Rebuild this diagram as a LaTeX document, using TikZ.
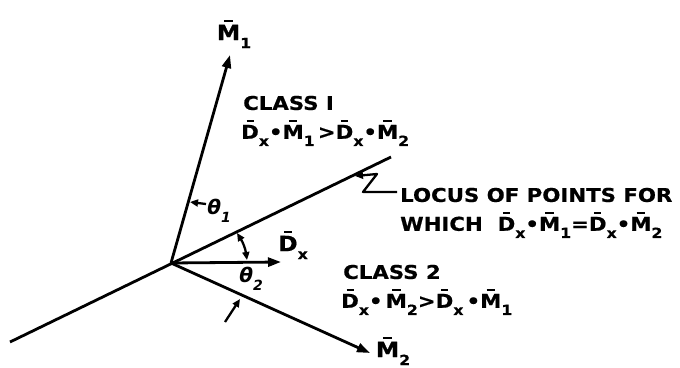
\documentclass[tikz,border=0pt]{standalone}
\usepackage{fontspec}
\setmainfont{DejaVu Sans}[BoldFont={DejaVu Sans Bold},BoldFeatures={FakeStretch=1.12,FakeBold=0.6}]
\usetikzlibrary{arrows.meta}
\newcommand{\ob}[1]{\setbox0\hbox{#1}\rlap{\hbox to\wd0{\hss\rule[\dimexpr\ht0+2.5pt]{0.4\wd0}{2.4pt}\hss}}\box0}
\newcommand{\sub}[1]{\raisebox{-0.38em}{\fontsize{14}{14}\selectfont #1}}
\begin{document}
\begin{tikzpicture}[x=1pt,y=-1pt,
  ln/.style={line width=2.8pt},
  tip/.style={-{Triangle[length=13pt,width=9pt]}},
  mk/.style={line width=2.3pt,-{Triangle[length=8pt,width=7pt]}},
  lbl/.style={font=\fontsize{21}{23}\selectfont\bfseries,inner sep=0pt},
  txt/.style={font=\fontsize{19}{21}\selectfont\bfseries,inner sep=0pt,anchor=west}]
\useasboundingbox (0,0) rectangle (680,367);
\fill[white] (0,0) rectangle (680,367);
\coordinate (O) at (171,263);
\coordinate (M1) at (230,55);
\coordinate (Dx) at (281,262);
\coordinate (M2) at (370,353);
\coordinate (L1) at (10,342);
\coordinate (L2) at (391,157);
\draw[ln] (L1) -- (L2);
\draw[ln,tip] (O) -- (M1);
\draw[ln,tip] (O) -- (Dx);
\draw[ln,tip] (O) -- (M2);
% labels of vectors
\node[lbl] (lM1) at (234,34) {\ob{M}\sub{1}};
\node[lbl] (lDx) at (293,245) {\ob{D}\sub{x}};
\node[lbl] (lM2) at (393,351) {\ob{M}\sub{2}};
% theta 1
\coordinate (t1a) at (206,204);
\coordinate (t1b) at (190,202);
\draw[mk] (t1a) -- (t1b);
\node[lbl,font=\fontsize{20}{22}\selectfont\bfseries\itshape] (th1) at (219,211) {θ\sub{1}};
% theta 2
\coordinate (aA) at (237,233);
\coordinate (aB) at (247,260);
\draw[line width=2.3pt,{Triangle[length=8pt,width=7pt]}-{Triangle[length=8pt,width=7pt]}] (aA) to[bend left=12] (aB);
\node[lbl,font=\fontsize{20}{22}\selectfont\bfseries\itshape] (th2) at (251,279) {θ\sub{2}};
\coordinate (t2a) at (225,322);
\coordinate (t2b) at (240,299);
\draw[mk] (t2a) -- (t2b);
% locus leader
\coordinate (z1) at (397,192);
\coordinate (z2) at (363,192);
\coordinate (z3) at (377,174);
\coordinate (z4) at (355,176);
\draw[mk,line join=round] (z1) -- (z2) -- (z3) -- (z4);
% texts
\node[txt] (c1a) at (243,103) {CLASS I};
\node[txt] (c1b) at (241,133) {\ob{D}\sub{x}•\ob{M}\sub{1}\,>\ob{D}\sub{x}•\ob{M}\sub{2}};
\node[txt] (loa) at (400,195) {LOCUS OF POINTS FOR};
\node[txt] (lob) at (400,225) {WHICH\ \ \ob{D}\sub{x}•\ob{M}\sub{1}=\ob{D}\sub{x}•\ob{M}\sub{2}};
\node[txt] (c2a) at (343,272) {CLASS 2};
\node[txt] (c2b) at (341,302) {\ob{D}\sub{x}•\,\ob{M}\sub{2}>\ob{D}\sub{x}\,•\ob{M}\sub{1}};
\end{tikzpicture}
\end{document}
